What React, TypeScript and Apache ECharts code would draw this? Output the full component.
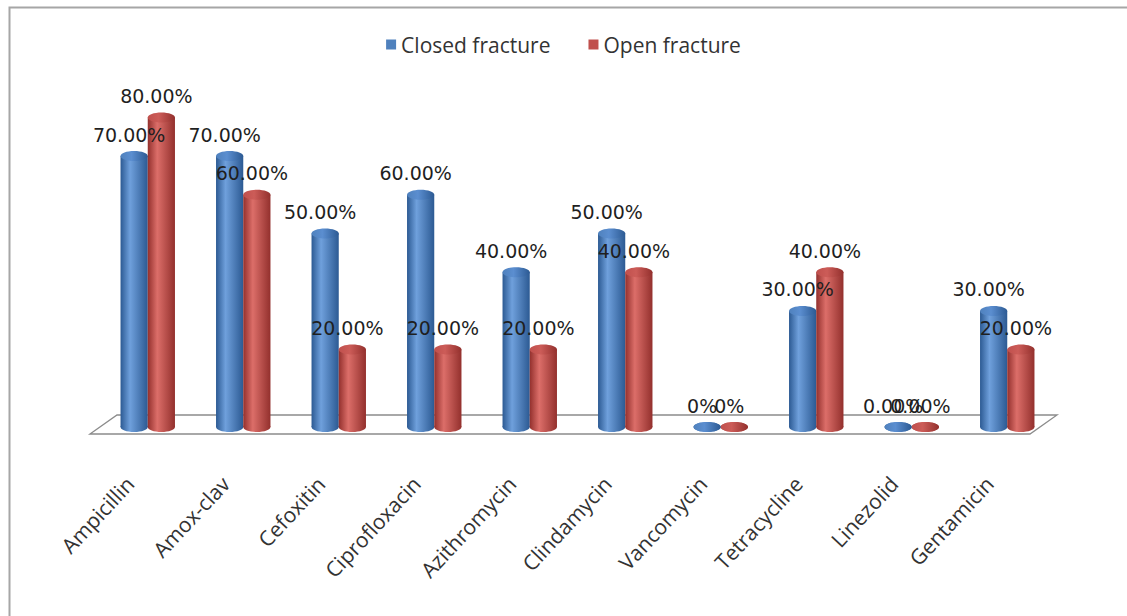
import React, { useEffect, useRef } from "react";
import * as echarts from "echarts";

// Antibiotic resistance by fracture type (percent of isolates)
const categories = [
  "Ampicillin",
  "Amox-clav",
  "Cefoxitin",
  "Ciprofloxacin",
  "Azithromycin",
  "Clindamycin",
  "Vancomycin",
  "Tetracycline",
  "Linezolid",
  "Gentamicin",
];
const closedFracture = [70, 70, 50, 60, 40, 50, 0, 30, 0, 30];
const openFracture = [80, 60, 20, 20, 20, 40, 0, 40, 0, 20];
// number of decimals shown in each category's value labels
const labelDecimals = [2, 2, 2, 2, 2, 2, 0, 2, 2, 2];

const seriesNames = ["Closed fracture", "Open fracture"];

type Palette = { base: string; dark: string; light: string; cap: string };
const bluePalette: Palette = { base: "#4F81BD", dark: "#2C5A93", light: "#6FA0DC", cap: "#5B8ED0" };
const redPalette: Palette = { base: "#C0504D", dark: "#93302D", light: "#DC6E69", cap: "#CC5C58" };

const fmt = (v: number, i: number) => v.toFixed(labelDecimals[i]) + "%";

function cylinderSeries(name: string, values: number[], side: number, pal: Palette) {
  return {
    type: "custom",
    name,
    z: 3,
    itemStyle: { color: pal.base },
    data: values.map((v, i) => [i, v]),
    encode: { x: 0, y: 1 },
    renderItem: (params: any, api: any) => {
      const i = api.value(0);
      const v = api.value(1);
      const band = api.size([1, 0])[0];
      const bw = band * 0.285;
      const [bx, by] = api.coord([i, 0]);
      const ty = api.coord([i, v])[1];
      const cx = bx + (side * bw) / 2;
      const ry = 5;
      const body = new echarts.graphic.LinearGradient(0, 0, 1, 0, [
        { offset: 0, color: pal.dark },
        { offset: 0.35, color: pal.light },
        { offset: 1, color: pal.dark },
      ]);
      const cap = new echarts.graphic.LinearGradient(0, 0, 1, 0, [
        { offset: 0, color: pal.base },
        { offset: 0.4, color: pal.cap },
        { offset: 1, color: pal.dark },
      ]);
      return {
        type: "group",
        children: [
          { type: "ellipse", shape: { cx, cy: by, rx: bw / 2, ry }, style: { fill: body } },
          {
            type: "rect",
            shape: { x: cx - bw / 2, y: ty, width: bw, height: Math.max(0, by - ty) },
            style: { fill: body },
          },
          { type: "ellipse", shape: { cx, cy: ty, rx: bw / 2, ry }, style: { fill: cap } },
          {
            type: "text",
            x: cx - 5,
            y: ty - 12,
            z2: 10,
            style: {
              text: fmt(v, i),
              align: "center",
              verticalAlign: "bottom",
              fontFamily: "DejaVu Sans",
              fontSize: 19,
              fill: "#1f1f1f",
            },
          },
        ],
      };
    },
  };
}

// Perspective floor under the bars, derived from the plot area
const floorSeries = {
  type: "custom",
  name: "floor",
  z: 1,
  silent: true,
  data: [[0, 0]],
  encode: { x: 0, y: 1 },
  renderItem: (params: any, api: any) => {
    const cs = params.coordSys;
    const y0 = api.coord([0, 0])[1];
    const left = cs.x;
    const right = cs.x + cs.width;
    return {
      type: "polygon",
      shape: {
        points: [
          [left - 10, y0 + 7],
          [left + 17, y0 - 12],
          [right + 2, y0 - 12],
          [right - 25, y0 + 7],
        ],
      },
      style: { fill: "#ffffff", stroke: "#8c8c8c", lineWidth: 1.3 },
    };
  },
};

export default function App() {
  const ref = useRef<HTMLDivElement>(null);

  useEffect(() => {
    if (!ref.current) return;
    const chart = echarts.init(ref.current, undefined, { renderer: "svg" });
    chart.setOption({
      animation: false,
      backgroundColor: "#ffffff",
      graphic: [
        {
          type: "rect",
          left: 7,
          top: 5,
          z: -10,
          shape: { width: 1140, height: 640 },
          style: { fill: "none", stroke: "#a6a6a6", lineWidth: 2 },
        },
      ],
      legend: {
        data: seriesNames,
        top: 29,
        left: "center",
        icon: "rect",
        itemWidth: 10,
        itemHeight: 10,
        itemGap: 38,
        textStyle: { fontFamily: "Open Sans", fontSize: 21, color: "#333333" },
      },
      grid: { left: 100, right: 72, top: 40, bottom: 189 },
      xAxis: {
        type: "category",
        data: categories,
        axisLine: { show: false },
        axisTick: { show: false },
        axisLabel: {
          interval: 0,
          rotate: 47,
          margin: 34,
          padding: [0, 26, 0, 0],
          fontFamily: "Open Sans",
          fontSize: 21,
          color: "#333333",
        },
      },
      yAxis: {
        type: "value",
        min: 0,
        max: 100,
        show: false,
        splitLine: { show: false },
      },
      series: [
        floorSeries,
        cylinderSeries(seriesNames[0], closedFracture, -1, bluePalette),
        cylinderSeries(seriesNames[1], openFracture, 1, redPalette),
      ],
    });
    return () => chart.dispose();
  }, []);

  return (
    <div
      ref={ref}
      style={{ position: "fixed", left: 0, top: 0, width: 1127, height: 616 }}
    />
  );
}
